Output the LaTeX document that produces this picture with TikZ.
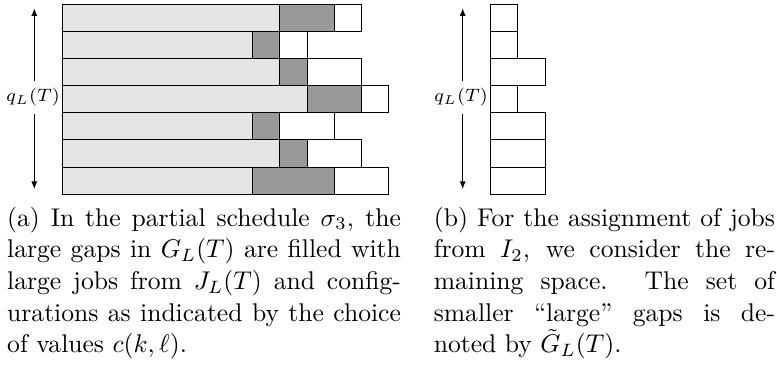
\documentclass[tikz,border=0pt]{standalone}
\usetikzlibrary{arrows.meta}
\definecolor{jobfill}{gray}{0.9}
\definecolor{cfgfill}{gray}{0.6}
\tikzset{
  cell/.style={draw=black, line width=0.4pt},
  arr/.style={line width=0.4pt, -{Latex[length=3pt,width=2.4pt]}},
  qlab/.style={font=\scriptsize, inner xsep=1pt, inner ysep=2.6pt},
  captext/.style={anchor=base west, align=justify, inner sep=0pt, font=\fontsize{10}{12.4}\selectfont}
}
\begin{document}
\begin{tikzpicture}[x=0.390625pt, y=-0.390625pt]
\useasboundingbox (0,0) rectangle (777,365);
% left diagram
\foreach \r/\a/\b/\c in {0/8/10/11, 1/7/8/9, 2/8/9/11, 3/9/11/12, 4/7/8/10, 5/8/9/11, 6/7/10/12}{
  \path[cell, fill=jobfill] (62.3, {4+27.19*\r}) rectangle ({62.3+27.2*\a}, {4+27.19*(\r+1)});
  \path[cell, fill=cfgfill] ({62.3+27.2*\a}, {4+27.19*\r}) rectangle ({62.3+27.2*\b}, {4+27.19*(\r+1)});
  \path[cell, fill=white] ({62.3+27.2*\b}, {4+27.19*\r}) rectangle ({62.3+27.2*\c}, {4+27.19*(\r+1)});
}
\coordinate (ltop) at (34.3,8.3);
\coordinate (lbot) at (34.3,189);
\node[qlab] (llab) at (33,97.5) {$q_L(T)$};
\draw[arr] (ltop |- llab.north) -- (ltop);
\draw[arr] (lbot |- llab.south) -- (lbot);
% right diagram
\foreach \r/\c in {0/1, 1/1, 2/2, 3/1, 4/2, 5/2, 6/2}{
  \path[cell, fill=white] (490.7, {4+27.19*\r}) rectangle ({490.7+27.2*\c}, {4+27.19*(\r+1)});
}
\coordinate (rtop) at (462.7,8.3);
\coordinate (rbot) at (462.7,189);
\node[qlab] (rlab) at (461,97.5) {$q_L(T)$};
\draw[arr] (rtop |- rlab.north) -- (rtop);
\draw[arr] (rbot |- rlab.south) -- (rbot);
% captions
\node[captext, text width=153.8pt] (capa) at (6.7,226) {(a) In the partial schedule $\sigma_3$, the\linebreak large gaps in $G_L(T)$ are filled with\linebreak large jobs from $J_L(T)$ and config-\linebreak urations as indicated by the choice\linebreak of values $c(k,\ell)$.};
\node[captext, text width=133.3pt] (capb) at (433.3,226) {(b) For the assignment of jobs\linebreak from $I_2$, we consider the re-\linebreak maining space.  The set of\linebreak smaller ``large'' gaps is de-\linebreak noted by $\tilde{G}_L(T)$.};
\end{tikzpicture}
\end{document}
